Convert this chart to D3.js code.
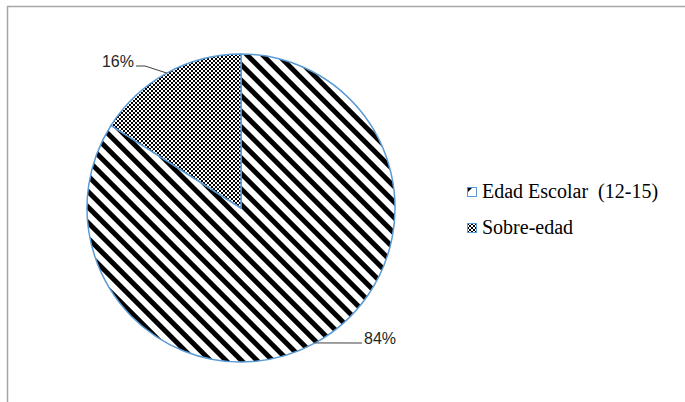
<!DOCTYPE html>
<html>
<head>
<meta charset="utf-8">
<script src="https://cdn.jsdelivr.net/npm/d3@7"></script>
<style>
  html, body { margin: 0; padding: 0; background: #fff; }
  svg { display: block; }
</style>
</head>
<body>
<div id="chart"></div>
<script>
// Distribution of students by age group
const categories = ["Edad Escolar  (12-15)", "Sobre-edad"];
const values = [84, 16];
const valueLabels = ["84%", "16%"];

const width = 685, height = 402;
const cx = 241, cy = 208, radius = 154;

const serifFont = "Liberation Serif, Times New Roman, Tinos, DejaVu Serif, serif";
const sansFont = "Liberation Sans, Arial, DejaVu Sans, sans-serif";

const svg = d3.select("#chart").append("svg")
  .attr("width", width)
  .attr("height", height);

// Fill patterns: diagonal stripes and a fine checkerboard
const defs = svg.append("defs");
const stripes = defs.append("pattern")
  .attr("id", "stripes")
  .attr("patternUnits", "userSpaceOnUse")
  .attr("width", 11).attr("height", 11)
  .attr("patternTransform", "rotate(-45)");
stripes.append("rect").attr("width", 11).attr("height", 11).attr("fill", "#fff");
stripes.append("rect").attr("width", 5).attr("height", 11).attr("fill", "#000");

const checker = defs.append("pattern")
  .attr("id", "checker")
  .attr("patternUnits", "userSpaceOnUse")
  .attr("width", 4).attr("height", 4);
checker.append("rect").attr("width", 4).attr("height", 4).attr("fill", "#fff");
checker.append("rect").attr("width", 2).attr("height", 2).attr("fill", "#000");
checker.append("rect").attr("x", 2).attr("y", 2).attr("width", 2).attr("height", 2).attr("fill", "#000");

// Small swatch version of the stripe fill for the legend
const swatchStripes = defs.append("pattern")
  .attr("id", "swatch-stripes")
  .attr("patternUnits", "userSpaceOnUse")
  .attr("width", 9).attr("height", 9);
swatchStripes.append("rect").attr("width", 9).attr("height", 9).attr("fill", "#fff");
swatchStripes.append("path").attr("d", "M0,0 H6 L0,6 Z").attr("fill", "#000");

const fills = ["url(#stripes)", "url(#checker)"];
const swatchFills = ["url(#swatch-stripes)", "url(#checker)"];

// Chart area frame
svg.append("path")
  .attr("d", `M7.5,${height} V6.5 H${width}`)
  .attr("fill", "none")
  .attr("stroke", "#a6a6a6")
  .attr("stroke-width", 1.5);

const data = categories.map((c, i) => ({ name: c, value: values[i], label: valueLabels[i], fill: fills[i], swatch: swatchFills[i] }));

const pie = d3.pie().sort(null).value(d => d.value);
const arcs = pie(data);
const arc = d3.arc().innerRadius(0).outerRadius(radius);

const g = svg.append("g").attr("transform", `translate(${cx},${cy})`);
g.selectAll("path.slice")
  .data(arcs)
  .join("path")
  .attr("class", "slice")
  .attr("d", arc)
  .attr("fill", d => d.data.fill)
  .attr("stroke", "#5b9bd5")
  .attr("stroke-width", 1.5)
  .attr("stroke-linejoin", "round");

// Data labels with leader lines from each slice's mid-angle
const leaders = [
  { bend: [362, 343], text: [364, 344], anchor: "start", tail: false },
  { bend: [145, 66], text: [134, 67], anchor: "end", tail: true }
];
arcs.forEach((a, i) => {
  const L = leaders[i];
  const ang = (a.startAngle + a.endAngle) / 2;
  const px = cx + radius * Math.sin(ang);
  const py = cy - radius * Math.cos(ang);
  const pts = L.tail
    ? [[px, py], L.bend, [L.text[0] + 2, L.bend[1]]]
    : [[px, py], L.bend];
  svg.append("path")
    .attr("d", d3.line()(pts))
    .attr("fill", "none")
    .attr("stroke", "#404040")
    .attr("stroke-width", 1);
  svg.append("text")
    .attr("x", L.text[0]).attr("y", L.text[1])
    .attr("text-anchor", L.anchor)
    .attr("font-family", sansFont)
    .attr("font-size", 16)
    .attr("fill", "#262626")
    .text(a.data.label);
});

// Legend
const legend = svg.append("g").attr("transform", "translate(467,187)");
const legendRows = legend.selectAll("g")
  .data(data)
  .join("g")
  .attr("transform", (d, i) => `translate(0,${i * 36})`);
legendRows.append("rect")
  .attr("x", 0.5).attr("y", 0.5)
  .attr("width", 9).attr("height", 9)
  .attr("fill", d => d.swatch)
  .attr("stroke", "#5b9bd5")
  .attr("stroke-width", 1);
legendRows.append("text")
  .attr("x", 15).attr("y", 10.5)
  .attr("font-family", serifFont)
  .attr("font-size", 20)
  .attr("fill", "#000")
  .style("white-space", "pre")
  .text(d => d.name);
</script>
</body>
</html>
